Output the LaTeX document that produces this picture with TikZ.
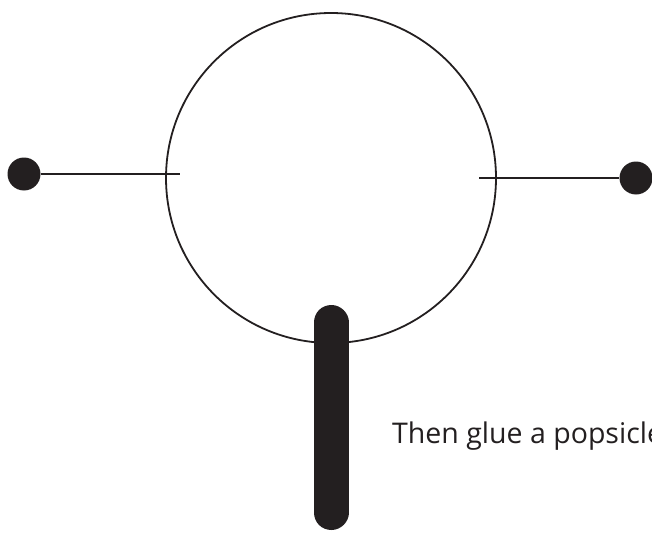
\documentclass[tikz,border=0pt]{standalone}
\usepackage{fontspec}
\setmainfont{Open Sans}
\usetikzlibrary{positioning}
\definecolor{inkdark}{HTML}{231F20}

\begin{document}
\begin{tikzpicture}[x=1pt,y=-1pt,
 ball/.style={circle,draw=inkdark,line width=1.8pt,inner sep=0pt,minimum size=330pt},
 dot/.style={circle,fill=inkdark,inner sep=0pt,minimum size=33pt},
 wire/.style={draw=inkdark,line width=1.8pt},
 stickbar/.style={draw=inkdark,line width=35pt,line cap=round}]
\useasboundingbox (0,0) rectangle (652,532);
\clip (0,0) rectangle (652,532);
\node[ball] (head) at (331,178) {};
\node[dot] (ldot) at (24,174) {};
\node[dot] (rdot) at (636,178) {};
\coordinate (lend) at (180,174);
\coordinate (rend) at (479,178);
\draw[wire] (ldot) -- (lend);
\draw[wire] (rend) -- (rdot);
\coordinate (sticktop) at (331,322.5);
\coordinate (stickbot) at (331,512.5);
\draw[stickbar] (sticktop) -- (stickbot);
\node[anchor=base west,inner sep=0pt,text=inkdark,font=\fontsize{28.5}{34}\selectfont] (note) at (392,443) {Then glue a popsicle};
\end{tikzpicture}
\end{document}
